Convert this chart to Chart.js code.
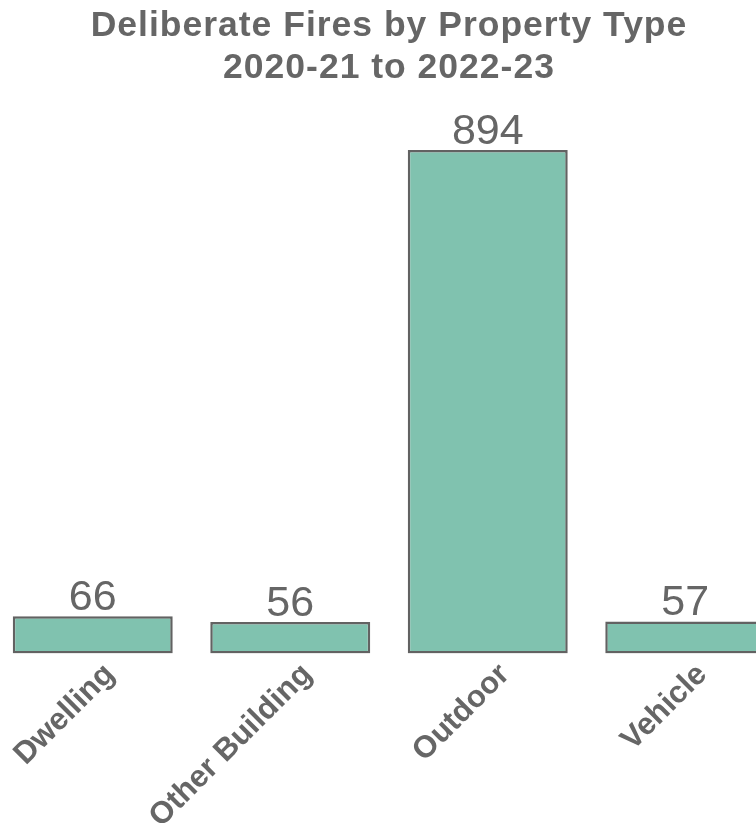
<!DOCTYPE html>
<html>
<head>
<meta charset="utf-8">
<script src="https://cdn.jsdelivr.net/npm/chart.js@4/dist/chart.umd.min.js"></script>
<style>
  html, body { margin: 0; padding: 0; background: #ffffff; overflow: hidden; }
  #wrap { position: absolute; left: -6px; top: 0; width: 790px; height: 823px; }
</style>
</head>
<body>
<div id="wrap"><canvas id="c"></canvas></div>
<script>
const categories = ["Dwelling", "Other Building", "Outdoor", "Vehicle"];
const fireCounts = [66, 56, 894, 57];
const titleLines = ["Deliberate Fires by Property Type", "2020-21 to 2022-23"];

const textGrey = "#666666";
const FONT = "'Liberation Sans', Arial, Helvetica, sans-serif";

function withSpacing(box, spacing) {
  if (!box || box.__spaced) return;
  const orig = box.draw.bind(box);
  box.draw = function (area) {
    const ctx = this.ctx || this.chart.ctx;
    const prev = ctx.letterSpacing;
    ctx.letterSpacing = spacing;
    orig(area);
    ctx.letterSpacing = prev || "0px";
  };
  box.__spaced = true;
}

const spacingPlugin = {
  id: "spacingPlugin",
  beforeDraw(chart) {
    withSpacing(chart.titleBlock, "1.0px");
    withSpacing(chart.scales.x, "0.3px");
  }
};

const valueLabels = {
  id: "valueLabels",
  afterDatasetsDraw(chart) {
    const ctx = chart.ctx;
    const meta = chart.getDatasetMeta(0);
    ctx.save();
    ctx.fillStyle = textGrey;
    ctx.font = "43px " + FONT;
    ctx.textAlign = "center";
    ctx.textBaseline = "alphabetic";
    meta.data.forEach((bar, i) => {
      ctx.fillText(String(chart.data.datasets[0].data[i]), bar.x, bar.y - 6);
    });
    ctx.restore();
  }
};

new Chart(document.getElementById("c"), {
  type: "bar",
  data: {
    labels: categories,
    datasets: [{
      data: fireCounts,
      backgroundColor: "#80c2af",
      borderColor: "#626262",
      borderWidth: 2.5,
      borderSkipped: false,
      barPercentage: 0.81,
      categoryPercentage: 1.0
    }]
  },
  options: {
    responsive: true,
    maintainAspectRatio: false,
    animation: false,
    layout: { padding: 0 },
    plugins: {
      legend: { display: false },
      tooltip: { enabled: false },
      title: {
        display: true,
        text: titleLines,
        color: textGrey,
        font: { family: FONT, size: 35.5, weight: "bold", lineHeight: 1.16 },
        padding: { top: 6, bottom: 2 }
      }
    },
    scales: {
      y: { display: false, min: 0, max: 1000 },
      x: {
        grid: { display: false, drawTicks: false },
        border: { display: false },
        ticks: {
          color: textGrey,
          font: { family: FONT, size: 31, weight: "bold" },
          minRotation: 45,
          maxRotation: 45,
          padding: 3,
          labelOffset: 17
        },
        afterFit(scale) {
          scale.paddingLeft = 0;
          scale.paddingRight = 0;
          scale.height = 169.5;
        }
      }
    }
  },
  plugins: [spacingPlugin, valueLabels]
});
</script>
</body>
</html>
